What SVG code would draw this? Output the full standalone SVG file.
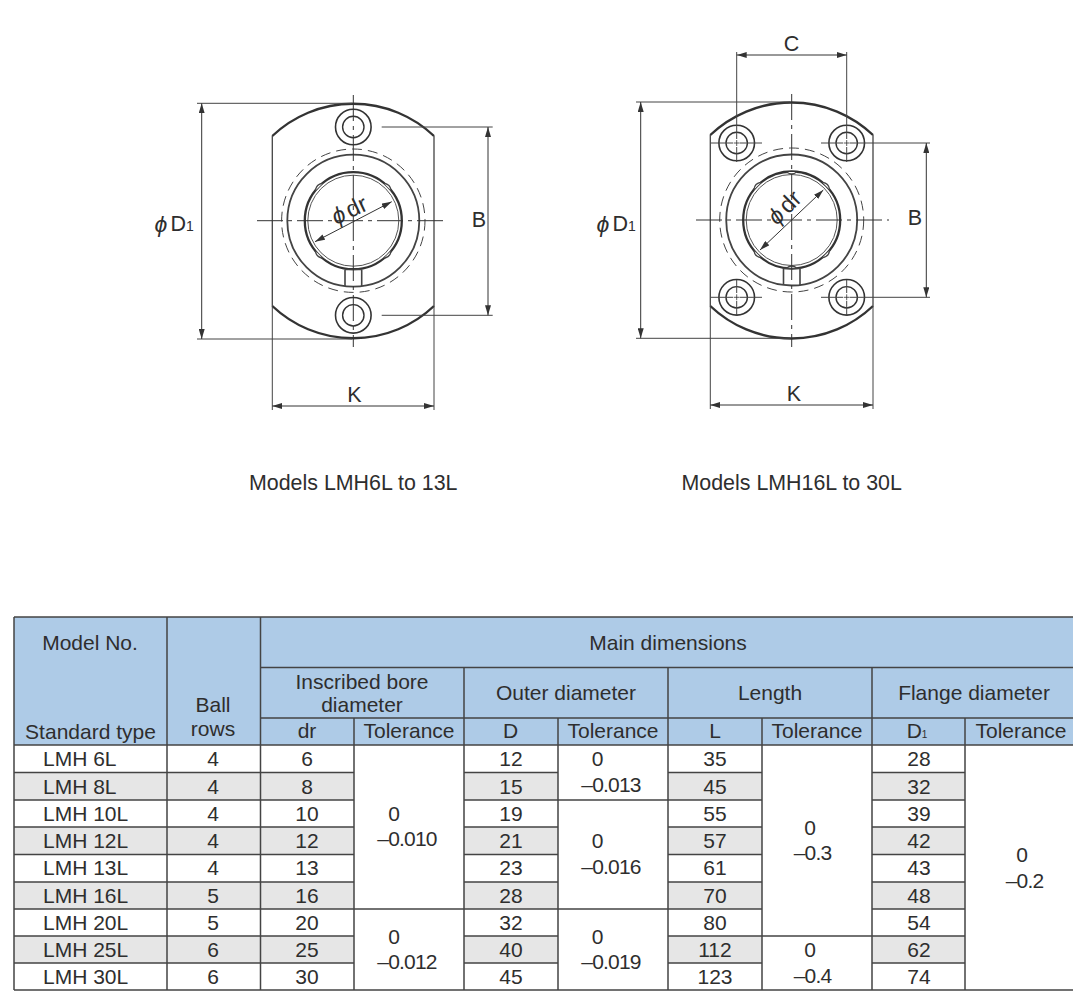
<svg xmlns="http://www.w3.org/2000/svg" width="1073" height="997" viewBox="0 0 1073 997">
<style>
text{font-family:"Liberation Sans",Arial,sans-serif;font-size:21px;fill:#2e2e2e}
.c{text-anchor:middle}
.n{letter-spacing:-0.8px}
.cap{font-size:21.4px}
.dim{font-size:21.5px}
.dr{font-size:23.5px}
.phi{font-size:23px;font-style:italic}
.sub{font-size:14px}
.o{fill:none;stroke:#333;stroke-width:2.4}
.s{fill:none;stroke:#444;stroke-width:1.3}
.b{fill:none;stroke:#333;stroke-width:2.3}
.t{fill:none;stroke:#555;stroke-width:1}
.da{fill:none;stroke:#444;stroke-width:1;stroke-dasharray:10 6}
.cl{fill:none;stroke:#333;stroke-width:1;stroke-dasharray:26 5 4 5}
.d{fill:none;stroke:#333;stroke-width:1;marker-start:url(#a);marker-end:url(#a)}
.e{fill:none;stroke:#444;stroke-width:1}
.g{fill:none;stroke:#444;stroke-width:1.5}
</style>
<defs>
<marker id="a" viewBox="0 0 10 6" refX="10" refY="3" markerWidth="10" markerHeight="6" orient="auto-start-reverse" markerUnits="userSpaceOnUse"><path d="M0 0L10 3L0 6Z" fill="#333"/></marker>
<g id="hole"><circle r="17.8" fill="#fff" stroke="#333" stroke-width="1.6"/><circle r="10.7" fill="none" stroke="#333" stroke-width="1.4"/></g>
<path id="cross" d="M-3 0H3M0-3V3" stroke="#333" stroke-width="0.8"/>
<path id="notch" d="M-5 0Q0 4 5 0" fill="#fff" stroke="#444" stroke-width="1.3"/>
</defs>
<rect width="1073" height="997" fill="#fff"/>

<g id="flange-small">
<path class="o" d="M272.3 136A117.5 117.5 0 0 1 434 136"/>
<path class="o" d="M272.3 306A117.5 117.5 0 0 0 434 306"/>
<path class="s" d="M272.3 136V306M434 136V306"/>
<circle class="da" cx="353.3" cy="220.700" r="71.700"/>
<circle class="s" cx="353.3" cy="220.700" r="66" style="fill:#fff;stroke-width:1.8"/>
<circle class="b" cx="353.3" cy="220.700" r="48.500"/>
<circle class="t" cx="353.3" cy="220.700" r="45.500"/>
<use href="#notch" transform="translate(319 187) rotate(135)"/>
<use href="#notch" transform="translate(387.5 187) rotate(225)"/>
<use href="#notch" transform="translate(319 254.5) rotate(45)"/>
<use href="#notch" transform="translate(387.5 254.500) rotate(-45)"/>
<path class="s" d="M345 269.500V286M361.700 269.500V286M345 269.500H361.700" style="stroke-width:1.6"/>
<use href="#hole" x="353.3" y="127"/>
<use href="#hole" x="353.3" y="315.300"/>
<path class="cl" d="M353.3 95V347"/>
<path class="cl" d="M257 220.700H448"/>
<path class="e" d="M197 103.300H352M197 339H352M381.700 127H492.700M381.700 315.300H492.700M272.300 306V410M434 306V410"/>
<path class="d" d="M201.700 103.300V339"/>
<path class="d" d="M488 127V315.300"/>
<path class="d" d="M272.300 406H434"/>
<path class="d" d="M315 241.700L391.700 201.700"/>
<text class="phi" x="154.500" y="232">ϕ</text><text class="dim" x="170.500" y="231">D<tspan class="sub">1</tspan></text>
<text class="dr" transform="translate(336 225) rotate(-25)"><tspan class="phi">ϕ</tspan><tspan dx="3">dr</tspan></text>
<text class="dim c" x="479" y="226.500">B</text>
<text class="dim c" x="354.500" y="402">K</text>
<text class="cap" x="249" y="490">Models LMH6L to 13L</text>
</g>

<g id="flange-large">
<path class="o" d="M710.300 135A118 118 0 0 1 873 135"/>
<path class="o" d="M710.300 306A118 118 0 0 0 873 306"/>
<path class="s" d="M710.300 135V306M873 135V306"/>
<circle class="da" cx="791.700" cy="220" r="72"/>
<circle class="s" cx="791.700" cy="220" r="65.500" style="fill:#fff;stroke-width:1.8"/>
<circle class="b" cx="791.700" cy="220" r="48.500"/>
<circle class="t" cx="791.700" cy="220" r="45.500"/>
<use href="#notch" transform="translate(757.500 186) rotate(135)"/>
<use href="#notch" transform="translate(826 186) rotate(225)"/>
<use href="#notch" transform="translate(757.500 254) rotate(45)"/>
<use href="#notch" transform="translate(826 254) rotate(-45)"/>
<use href="#notch" transform="translate(791.700 172)"/>
<use href="#notch" transform="translate(791.700 268) rotate(180)"/>
<path class="s" d="M783.500 268.500V285M800 268.500V285M783.500 268.500H800" style="stroke-width:1.6"/>
<use href="#hole" x="736.700" y="143"/>
<use href="#hole" x="846.700" y="143"/>
<use href="#hole" x="736.700" y="297.300"/>
<use href="#hole" x="846.700" y="297.300"/>
<use href="#cross" x="736.700" y="143"/>
<use href="#cross" x="846.700" y="143"/>
<use href="#cross" x="736.700" y="297.300"/>
<use href="#cross" x="846.700" y="297.300"/>
<path class="cl" d="M791.700 94V347"/>
<path class="cl" d="M696 220H889"/>
<path class="e" d="M711 143H733M740 143H762M821 143H843M850 143H930M711 297.300H733M740 297.300H762M821 297.300H843M850 297.300H930M736.700 52V139M736.700 147V162M846.700 52V139M846.700 147V162M736.700 280V293M736.700 301V316M846.700 280V293M846.700 301V316M636 102H790M636 338.300H790M710.300 306V409M873 306V409"/>
<path class="d" d="M640.700 102V338.300"/>
<path class="d" d="M926.300 143V297.300"/>
<path class="d" d="M736.700 55H846.700"/>
<path class="d" d="M710.300 405H873"/>
<path class="d" d="M760 250L823.300 190"/>
<text class="phi" x="596.500" y="232">ϕ</text><text class="dim" x="612.500" y="231">D<tspan class="sub">1</tspan></text>
<text class="dr" transform="translate(777 226) rotate(-45)"><tspan class="phi">ϕ</tspan><tspan dx="3">dr</tspan></text>
<text class="dim c" x="915" y="224.500">B</text>
<text class="dim c" x="791.500" y="51">C</text>
<text class="dim c" x="794" y="400.500">K</text>
<text class="cap" x="681.500" y="490">Models LMH16L to 30L</text>
</g>

<g id="table">
<rect x="14" y="617" width="1059" height="128" fill="#aecbe7"/>
<g fill="#e6e6e6">
<path d="M14 772.500H354V800H14ZM14 827H354V854.500H14ZM14 882H354V909H14ZM14 936H354V963H14Z"/>
<path d="M464 772.500H558V800H464ZM464 827H558V854.500H464ZM464 882H558V909H464ZM464 936H558V963H464Z"/>
<path d="M668 772.500H762V800H668ZM668 827H762V854.500H668ZM668 882H762V909H668ZM668 936H762V963H668Z"/>
<path d="M872 772.500H965V800H872ZM872 827H965V854.500H872ZM872 882H965V909H872ZM872 936H965V963H872Z"/>
</g>
<path class="g" d="M14 617H1073M260.500 667.500H1073M260.500 718H1073M14 745H1073M14 990H1073"/>
<path class="g" d="M14 772.500H354M464 772.500H558M668 772.500H762M872 772.500H965M14 800H354M464 800H762M872 800H965M14 827H354M464 827H558M668 827H762M872 827H965M14 854.500H354M464 854.500H558M668 854.500H762M872 854.500H965M14 882H354M464 882H558M668 882H762M872 882H965M14 909H762M872 909H965M14 936H354M464 936H558M668 936H965M14 963H354M464 963H558M668 963H762M872 963H965"/>
<path class="g" d="M14 617V990M167 617V990M260.500 617V990M354 718V990M464 667.500V990M558 718V990M668 667.500V990M762 718V990M872 667.500V990M965 718V990"/>

<text class="c" x="90" y="650">Model No.</text>
<text class="c" x="90.500" y="739">Standard type</text>
<text class="c" x="213" y="712">Ball</text>
<text class="c" x="213" y="736">rows</text>
<text class="c" x="668" y="650">Main dimensions</text>
<text class="c" x="362" y="689">Inscribed bore</text>
<text class="c" x="362" y="712">diameter</text>
<text class="c" x="566" y="700">Outer diameter</text>
<text class="c" x="770" y="700">Length</text>
<text class="c" x="974" y="700">Flange diameter</text>
<text class="c" x="307" y="738">dr</text>
<text class="c" x="409" y="738">Tolerance</text>
<text class="c" x="510.700" y="738">D</text>
<text class="c" x="613" y="738">Tolerance</text>
<text class="c" x="715" y="738">L</text>
<text class="c" x="817" y="738">Tolerance</text>
<text class="c" x="917" y="738">D<tspan font-size="10">1</tspan></text>
<text class="c" x="1021" y="738">Tolerance</text>

<text x="43" y="766">LMH 6L</text><text x="43" y="794">LMH 8L</text><text x="43" y="821">LMH 10L</text><text x="43" y="848">LMH 12L</text><text x="43" y="875">LMH 13L</text><text x="43" y="903">LMH 16L</text><text x="43" y="930">LMH 20L</text><text x="43" y="957">LMH 25L</text><text x="43" y="984">LMH 30L</text>

<text class="c" x="213" y="766">4</text><text class="c" x="213" y="794">4</text><text class="c" x="213" y="821">4</text><text class="c" x="213" y="848">4</text><text class="c" x="213" y="875">4</text><text class="c" x="213" y="903">5</text><text class="c" x="213" y="930">5</text><text class="c" x="213" y="957">6</text><text class="c" x="213" y="984">6</text>

<text class="c" x="307" y="766">6</text><text class="c" x="307" y="794">8</text><text class="c" x="307" y="821">10</text><text class="c" x="307" y="848">12</text><text class="c" x="307" y="875">13</text><text class="c" x="307" y="903">16</text><text class="c" x="307" y="930">20</text><text class="c" x="307" y="957">25</text><text class="c" x="307" y="984">30</text>

<text class="c" x="511" y="766">12</text><text class="c" x="511" y="794">15</text><text class="c" x="511" y="821">19</text><text class="c" x="511" y="848">21</text><text class="c" x="511" y="875">23</text><text class="c" x="511" y="903">28</text><text class="c" x="511" y="930">32</text><text class="c" x="511" y="957">40</text><text class="c" x="511" y="984">45</text>

<text class="c" x="715" y="766">35</text><text class="c" x="715" y="794">45</text><text class="c" x="715" y="821">55</text><text class="c" x="715" y="848">57</text><text class="c" x="715" y="875">61</text><text class="c" x="715" y="903">70</text><text class="c" x="715" y="930">80</text><text class="c" x="715" y="957">112</text><text class="c" x="715" y="984">123</text>

<text class="c" x="919" y="766">28</text><text class="c" x="919" y="794">32</text><text class="c" x="919" y="821">39</text><text class="c" x="919" y="848">42</text><text class="c" x="919" y="875">43</text><text class="c" x="919" y="903">48</text><text class="c" x="919" y="930">54</text><text class="c" x="919" y="957">62</text><text class="c" x="919" y="984">74</text>

<text class="c" x="394" y="821">0</text><text class="c n" x="407" y="846">–0.010</text>
<text class="c" x="394" y="944">0</text><text class="c n" x="407" y="969">–0.012</text>
<text class="c" x="597.500" y="766">0</text><text class="c n" x="611" y="792">–0.013</text>
<text class="c" x="597.500" y="848">0</text><text class="c n" x="611" y="874">–0.016</text>
<text class="c" x="597.500" y="944">0</text><text class="c n" x="611" y="969">–0.019</text>
<text class="c" x="810" y="835">0</text><text class="c n" x="812.500" y="860">–0.3</text>
<text class="c" x="810" y="957">0</text><text class="c n" x="812.500" y="983">–0.4</text>
<text class="c" x="1022" y="862">0</text><text class="c n" x="1024.500" y="888">–0.2</text>
</g>
</svg>
